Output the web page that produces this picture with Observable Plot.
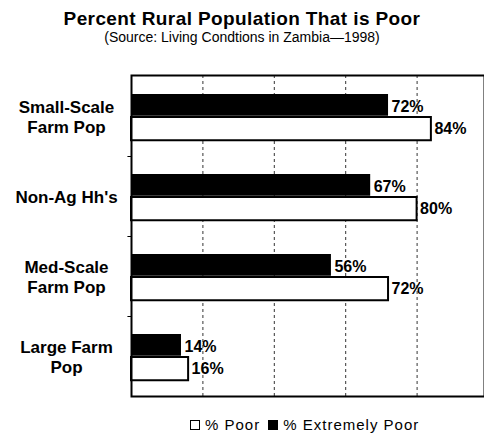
<!DOCTYPE html>
<html>
<head>
<meta charset="utf-8">
<script src="https://cdn.jsdelivr.net/npm/d3@7"></script>
<script src="https://cdn.jsdelivr.net/npm/@observablehq/plot@0.6"></script>
<style>
  body { margin: 0; background: #fff; font-family: "Liberation Sans", Arial, Helvetica, sans-serif; }
  #wrap { position: relative; width: 484px; height: 434px; overflow: hidden; background: #fff; }
  #head { position: relative; height: 50px; }
  #title { position: absolute; left: 0; width: 484px; top: 10px; text-align: center; font-size: 19px; line-height: 17px; font-weight: bold; letter-spacing: 0.4px; color: #000; }
  #sub { position: absolute; left: 0; width: 484px; top: 31px; text-align: center; font-size: 14px; line-height: 13px; color: #000; }
  #legend { position: absolute; left: 190px; top: 417px; display: flex; align-items: center; font-size: 15px; line-height: 15px; letter-spacing: 1px; color: #000; white-space: nowrap; }
  .box { display: inline-block; width: 8px; height: 8px; border: 1px solid #000; margin-right: 5px; }
</style>
</head>
<body>
<div id="wrap">
  <div id="head">
    <div id="title">Percent Rural Population That is Poor</div>
    <div id="sub">(Source: Living Condtions in Zambia—1998)</div>
  </div>
  <div id="chart"></div>
  <div id="legend">
    <span class="box" style="background:#fff"></span><span>% Poor</span>
    <span class="box" style="background:#000; margin-left:8px"></span><span>% Extremely Poor</span>
  </div>
</div>
<script>
const categories = ["Small-Scale\nFarm Pop", "Non-Ag Hh's", "Med-Scale\nFarm Pop", "Large Farm\nPop"];
const extremelyPoor = [72, 67, 56, 14];
const poor = [84, 80, 72, 16];
const gridTicks = [20, 40, 60, 80];

const extData = categories.map((c, i) => ({category: c, value: extremelyPoor[i]}));
const poorData = categories.map((c, i) => ({category: c, value: poor[i]}));

const chart = Plot.plot({
  width: 484,
  height: 360,
  marginTop: 25,
  marginBottom: 14,
  marginLeft: 131,
  marginRight: 0,
  style: { fontFamily: "'Liberation Sans', Arial, Helvetica, sans-serif", background: "#fff", overflow: "hidden" },
  x: { domain: [0, 100], range: [131, 488], axis: null },
  y: { domain: categories, padding: 0, axis: null },
  marks: [
    Plot.ruleX(gridTicks, { stroke: "#000", strokeWidth: 1, strokeDasharray: "3,3", strokeOpacity: 0.8 }),
    Plot.barX(extData, { x: "value", y: "category", fill: "#000", insetTop: 18, insetBottom: 40.25 }),
    Plot.barX(poorData, { x: "value", y: "category", fill: "#fff", stroke: "#000", strokeWidth: 2, insetTop: 41, insetBottom: 15.75 }),
    Plot.text(extData, { x: "value", y: "category", text: d => d.value + "%", dx: 3, dy: -10, textAnchor: "start", fontSize: 16, fontWeight: "bold", fill: "#000" }),
    Plot.text(poorData, { x: "value", y: "category", text: d => d.value + "%", dx: 3, dy: 12, textAnchor: "start", fontSize: 16, fontWeight: "bold", fill: "#000" }),
    Plot.text(categories, { y: d => d, text: d => d, frameAnchor: "left", dx: -65, textAnchor: "middle", lineHeight: 1.2, fontSize: 17, fontWeight: "bold", fill: "#000" }),
    Plot.ruleY(categories.slice(0, 3), { y: d => d, x1: -1, x2: 0, dy: 40, stroke: "#000", strokeWidth: 1 }),
    Plot.frame({ stroke: "#000", strokeWidth: 2 })
  ]
});
document.getElementById("chart").appendChild(chart);
</script>
</body>
</html>
